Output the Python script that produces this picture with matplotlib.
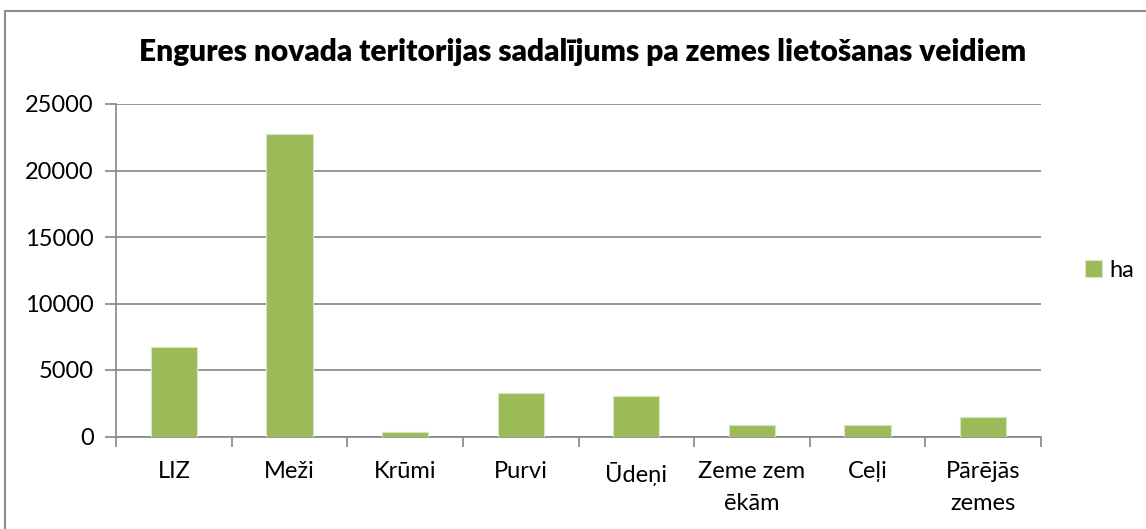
import matplotlib
matplotlib.use('Agg')
import matplotlib.pyplot as plt
import numpy as np
from matplotlib.patches import Rectangle

categories = ['LIZ', 'Meži', 'Krūmi', 'Purvi', 'Ūdeņi',
              'Zeme zem\nēkām', 'Ceļi', 'Pārējās\nzemes']
ha_values  = [6730, 22760, 360, 3300, 3050, 840, 840, 1470]
yticks     = [0, 5000, 10000, 15000, 20000, 25000]
series     = 'ha'
title      = 'Engures novada teritorijas sadalījums pa zemes lietošanas veidiem'

GREEN = '#9BBB59'
GRID  = '#868686'

plt.rcParams['font.family'] = ['Lato', 'DejaVu Sans']

W, H = 1146, 529
fig = plt.figure(figsize=(W / 100, H / 100), dpi=100)

# outer chart frame (only left and top visible in the crop)
fig.patches.append(Rectangle((5 / W, -0.1), 1.2, (H - 11) / H + 0.1,
                             transform=fig.transFigure, fill=False,
                             edgecolor='#8c8c8c', linewidth=1.5))

ax = fig.add_axes([116 / W, (H - 436.5) / H, (1041 - 116) / W, (436.5 - 104) / H])

x = np.arange(len(categories))
ax.bar(x, ha_values, width=0.40, color=GREEN, edgecolor='#d7e4bd',
       linewidth=0.8, label=series, zorder=3)

ax.set_xlim(-0.5, len(categories) - 0.5)
ax.set_ylim(0, 25000)
ax.set_yticks(yticks)
ax.set_yticklabels([str(v) for v in yticks], fontsize=17)
ax.yaxis.grid(True, color=GRID, linewidth=1.2, zorder=0)

ax.set_xticks(x)
ax.set_xticklabels(categories, fontsize=17, linespacing=1.6)
ax.set_xticks(np.arange(len(categories) + 1) - 0.5, minor=True)
ax.tick_params(axis='x', which='major', length=0, pad=18)
ax.tick_params(axis='x', which='minor', length=7, color=GRID, width=1.2)
ax.tick_params(axis='y', length=8, color=GRID, width=1.2, pad=8)

for s in ['top', 'right']:
    ax.spines[s].set_visible(False)
for s in ['left', 'bottom']:
    ax.spines[s].set_color(GRID)
    ax.spines[s].set_linewidth(1.2)

fig.text(0.508, (H - 52) / H, title, ha='center', va='center',
         fontsize=21.5, fontweight='heavy')

ax.legend(loc='center left', bbox_to_anchor=(1.025, 0.5), frameon=False,
          fontsize=17, handlelength=0.7, handleheight=0.7, handletextpad=0.3)

fig.savefig('out.png', dpi=100)
